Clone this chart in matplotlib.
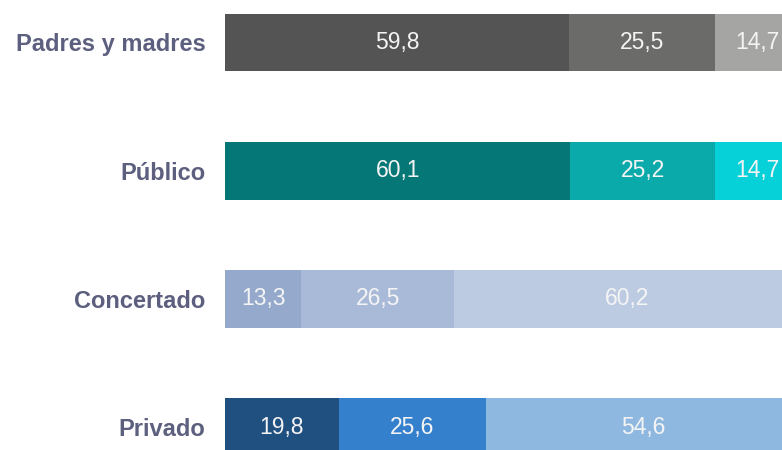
import numpy as np
import matplotlib
matplotlib.use("Agg")
import matplotlib.pyplot as plt

# Data (percentages)
categories = ["Padres y madres", "Público", "Concertado", "Privado"]
seg1 = [59.8, 60.1, 13.3, 19.8]
seg2 = [25.5, 25.2, 26.5, 25.6]
seg3 = [14.7, 14.7, 60.2, 54.6]

colors = [
    ["#545454", "#6b6c6a", "#a5a6a3"],
    ["#057777", "#0aa9aa", "#06d0d8"],
    ["#94a9cc", "#a8bad8", "#bccbe2"],
    ["#20507f", "#3580cc", "#8fb8e0"],
]

plt.rcParams["font.family"] = ["Liberation Sans", "DejaVu Sans"]

fig = plt.figure(figsize=(7.82, 4.5), dpi=100)
ax = fig.add_axes([225 / 782, 0, 557 / 782, 1])

y = np.arange(len(categories))
segments = [seg1, seg2, seg3]
for i, cat in enumerate(categories):
    left = 0.0
    for j, seg in enumerate(segments):
        val = seg[i]
        ax.barh(y[i], val, left=left, height=0.45, color=colors[i][j], edgecolor="none")
        ax.text(left + val / 2, y[i], f"{val:.1f}".replace(".", ","),
                ha="center", va="center", color="#f4f4f4", fontsize=16.5)
        left += val

ax.set_xlim(0, 96.9)
ax.set_ylim(3.179, -0.3315)
ax.set_yticks(y)
ax.set_yticklabels(categories, fontsize=17, fontweight="bold", color="#5c5f7e")
ax.tick_params(axis="y", length=0, pad=14)
ax.set_xticks([])
for sp in ax.spines.values():
    sp.set_visible(False)

fig.savefig("out.png", dpi=100)
